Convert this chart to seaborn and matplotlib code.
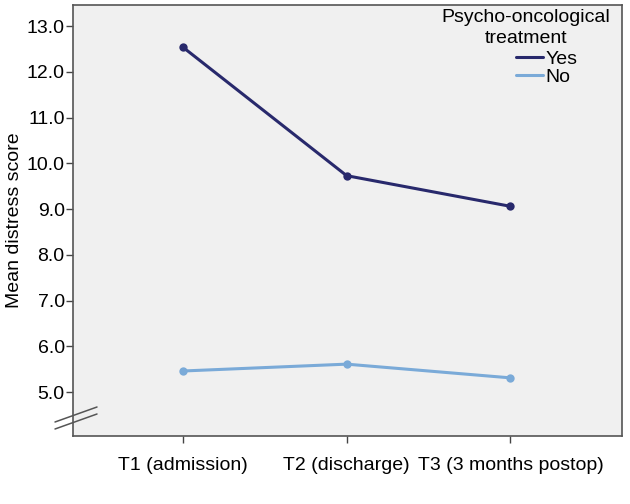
import pandas as pd
import seaborn as sns
import matplotlib.pyplot as plt
from matplotlib.lines import Line2D

# values
timepoints = ['T1 (admission)', 'T2 (discharge)', 'T3 (3 months postop)']
yes_scores = [12.54, 9.73, 9.06]
no_scores = [5.46, 5.61, 5.31]
groups = ['Yes', 'No']
colors = {'Yes': '#28296c', 'No': '#7aaad8'}

sns.set_theme(style='white')
plt.rcParams['font.family'] = ['Liberation Sans', 'DejaVu Sans']
plt.rcParams['text.color'] = 'black'
plt.rcParams['xtick.color'] = 'black'
plt.rcParams['ytick.color'] = 'black'
plt.rcParams['axes.labelcolor'] = 'black'

df = pd.DataFrame({
    'Time': timepoints * 2,
    'Score': yes_scores + no_scores,
    'Treatment': ['Yes'] * 3 + ['No'] * 3,
})
df['x'] = list(range(3)) * 2

fig = plt.figure(figsize=(6.3, 5.04), dpi=100)
ax = fig.add_axes([0.116, 0.135, 0.871, 0.855])
ax.set_facecolor('#f0f0f0')

sns.lineplot(data=df, x='x', y='Score', hue='Treatment', hue_order=groups,
             palette=colors, marker='o', markersize=6, markeredgewidth=0,
             linewidth=2.2, ax=ax, legend=False)

fs = 14
ax.set_xlim(-0.67, 2.68)
ax.set_ylim(4.04, 13.46)
ax.set_xticks(range(3))
ax.set_xticklabels(timepoints, fontsize=fs)
ax.set_yticks([5, 6, 7, 8, 9, 10, 11, 12, 13])
ax.set_yticklabels([f'{v:.1f}' for v in range(5, 14)], fontsize=fs)
ax.set_xlabel('')
ax.set_ylabel('Mean distress score', fontsize=fs, labelpad=3)
ax.tick_params(axis='both', direction='out', length=5, width=1,
               color='#444444', bottom=True, left=True, pad=1)
ax.tick_params(axis='x', pad=10)
for s in ax.spines.values():
    s.set_color('#555555')
    s.set_linewidth(1.2)

# legend: centred title, line-only handles below it
fig.text(526 / 630, 1 - 28 / 504, 'Psycho-oncological\ntreatment',
         ha='center', va='center', fontsize=fs, linespacing=1.25)
handles = [Line2D([], [], color=colors[g], lw=2.2) for g in groups]
ax.legend(handles, groups, loc='upper left',
          bbox_to_anchor=(516 / 630, 1 - 50 / 504),
          bbox_transform=fig.transFigure, frameon=False, fontsize=fs,
          handlelength=1.4, handletextpad=0.1, labelspacing=0.05,
          borderpad=0, borderaxespad=0)

# axis break marks
for dy in (0, 7):
    fig.add_artist(Line2D([55 / 630, 97 / 630],
                          [1 - (422 + dy) / 504, 1 - (407 + dy) / 504],
                          transform=fig.transFigure, color='#555555', lw=1.1))

fig.savefig('out.png', dpi=100)
